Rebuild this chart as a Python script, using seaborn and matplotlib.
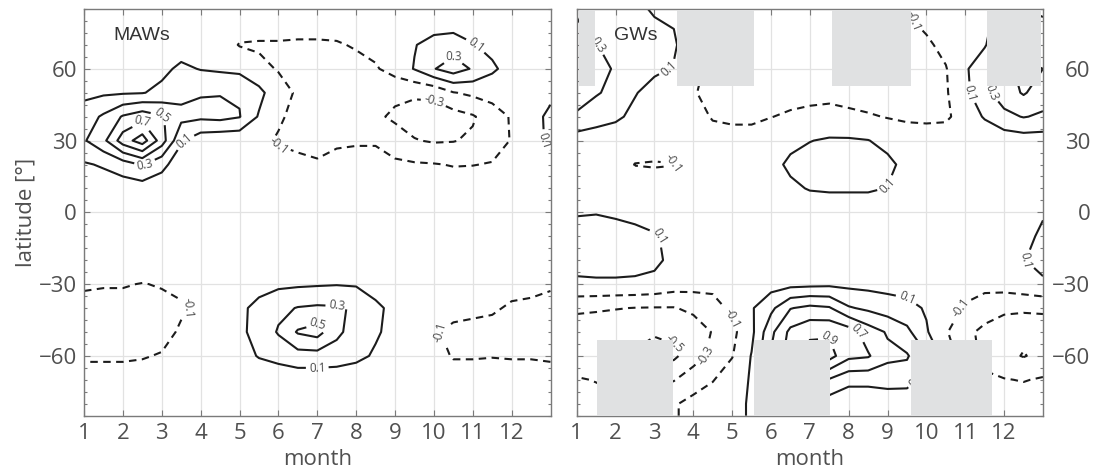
import numpy as np
import matplotlib
matplotlib.use("Agg")
import matplotlib.pyplot as plt
from matplotlib.ticker import MultipleLocator
import seaborn as sns

# ---------------- data ----------------
months = [1, 1.5, 2, 2.5, 3, 3.5, 4, 4.5, 5, 5.5, 6, 6.5, 7, 7.5, 8, 8.5,
          9, 9.5, 10, 10.5, 11, 11.5, 12, 12.5, 13]
lats = [85, 80, 70, 60, 50, 40, 30, 20, 10, 0, -10, -20, -30, -40, -50, -60,
        -70, -80, -85]

maws = [
    [0, 0, 0, 0, 0, 0, 0, 0, 0, 0, 0, 0, 0, 0, 0, 0, 0, 0, 0, 0, 0, 0, 0, 0, 0],
    [0, 0, 0, 0, 0, 0, 0, 0, 0, 0, 0, 0, 0, 0, 0, 0, 0, 0, 0, 0, 0, 0, 0, 0, 0],
    [0, 0, 0, 0, 0, 0, 0, 0, -0.11, -0.12, -0.12, -0.13, -0.13, -0.12, -0.08, -0.04, 0.03, 0.09, 0.17, 0.2, 0.11, 0.05, 0, 0, 0],
    [0, 0, 0, 0.02, 0.05, 0.14, 0.09, 0.07, 0.05, -0.06, -0.11, -0.17, -0.2, -0.2, -0.17, -0.12, -0.02, 0.11, 0.29, 0.4, 0.28, 0.13, 0.03, 0, 0],
    [0.05, 0.07, 0.08, 0.09, 0.15, 0.24, 0.29, 0.29, 0.28, 0.16, -0.04, -0.12, -0.18, -0.22, -0.24, -0.25, -0.26, -0.27, -0.25, -0.11, -0.06, -0.02, 0, 0.02, 0.05],
    [0.2, 0.33, 0.52, 0.62, 0.52, 0.36, 0.34, 0.36, 0.31, 0.08, -0.07, -0.16, -0.18, -0.2, -0.22, -0.27, -0.33, -0.38, -0.4, -0.38, -0.32, -0.2, -0.08, 0.02, 0.15],
    [0.28, 0.45, 0.8, 1.0, 0.6, 0.12, -0.02, -0.05, -0.05, -0.05, -0.12, -0.13, -0.13, -0.12, -0.12, -0.12, -0.22, -0.29, -0.32, -0.31, -0.27, -0.18, -0.09, 0.02, 0.14],
    [0.08, 0.12, 0.2, 0.32, 0.15, 0, 0, 0, 0, 0, -0.02, -0.07, -0.09, -0.06, -0.03, -0.03, -0.06, -0.08, -0.09, -0.11, -0.105, -0.09, -0.05, 0, 0.04],
    [0, 0, 0, 0, 0, 0, 0, 0, 0, 0, 0, 0, 0, 0, 0, 0, 0, 0, 0, 0, 0, 0, 0, 0, 0],
    [0, 0, 0, 0, 0, 0, 0, 0, 0, 0, 0, 0, 0, 0, 0, 0, 0, 0, 0, 0, 0, 0, 0, 0, 0],
    [0, 0, 0, 0, 0, 0, 0, 0, 0, 0, 0, 0, 0, 0, 0, 0, 0, 0, 0, 0, 0, 0, 0, 0, 0],
    [0, 0, 0, 0, 0, 0, 0, 0, 0, 0, 0, 0, 0, 0, 0, 0, 0, 0, 0, 0, 0, 0, 0, 0, 0],
    [-0.08, -0.09, -0.09, -0.105, -0.09, -0.06, -0.02, 0, 0.02, 0.05, 0.06, 0.07, 0.08, 0.09, 0.08, 0.04, 0.02, 0, -0.01, -0.02, -0.03, -0.04, -0.05, -0.06, -0.08],
    [-0.15, -0.15, -0.15, -0.15, -0.14, -0.12, -0.06, 0, 0.07, 0.14, 0.25, 0.31, 0.33, 0.32, 0.28, 0.13, 0.06, 0, -0.02, -0.04, -0.06, -0.08, -0.12, -0.13, -0.15],
    [-0.15, -0.15, -0.15, -0.15, -0.15, -0.08, -0.02, 0.02, 0.07, 0.15, 0.32, 0.52, 0.58, 0.35, 0.2, 0.12, 0.05, 0, -0.08, -0.14, -0.15, -0.15, -0.15, -0.15, -0.15],
    [-0.12, -0.12, -0.12, -0.11, -0.09, -0.05, -0.02, 0, 0.04, 0.11, 0.16, 0.22, 0.22, 0.2, 0.14, 0.08, 0.03, 0, -0.05, -0.11, -0.11, -0.105, -0.11, -0.11, -0.12],
    [-0.04, -0.04, -0.04, -0.04, -0.03, -0.02, 0, 0, 0, 0, -0.02, -0.02, -0.02, -0.02, 0, 0, 0, 0, -0.02, -0.04, -0.04, -0.04, -0.04, -0.04, -0.04],
    [0, 0, 0, 0, 0, 0, 0, 0, 0, 0, 0, 0, 0, 0, 0, 0, 0, 0, 0, 0, 0, 0, 0, 0, 0],
    [0, 0, 0, 0, 0, 0, 0, 0, 0, 0, 0, 0, 0, 0, 0, 0, 0, 0, 0, 0, 0, 0, 0, 0, 0],
]

gws = [
    [0.28, 0.2, 0.15, 0.12, 0.09, 0.07, -0.02, -0.11, -0.15, -0.15, -0.15, -0.15, -0.15, -0.15, -0.15, -0.15, -0.15, -0.12, -0.06, -0.02, 0, 0.05, 0.2, 0.3, 0.28],
    [0.31, 0.2, 0.15, 0.12, 0.105, 0.09, -0.02, -0.11, -0.15, -0.15, -0.15, -0.15, -0.15, -0.15, -0.15, -0.15, -0.15, -0.12, -0.06, -0.02, 0, 0.05, 0.2, 0.31, 0.31],
    [0.45, 0.31, 0.2, 0.17, 0.14, 0.12, 0, -0.12, -0.18, -0.18, -0.18, -0.18, -0.18, -0.18, -0.18, -0.18, -0.18, -0.18, -0.13, -0.05, 0, 0.08, 0.32, 0.4, 0.45],
    [0.5, 0.4, 0.27, 0.2, 0.13, 0.09, -0.05, -0.15, -0.2, -0.2, -0.2, -0.2, -0.2, -0.2, -0.2, -0.2, -0.2, -0.2, -0.18, -0.11, 0.07, 0.25, 0.45, 0.55, 0.5],
    [0.4, 0.32, 0.24, 0.11, 0.04, 0, -0.08, -0.18, -0.2, -0.2, -0.18, -0.18, -0.16, -0.15, -0.17, -0.2, -0.2, -0.2, -0.18, -0.12, 0.05, 0.25, 0.4, 0.52, 0.4],
    [0.27, 0.18, 0.13, 0.06, 0.03, 0.01, 0, -0.12, -0.15, -0.15, -0.105, -0.07, -0.05, -0.04, -0.06, -0.08, -0.11, -0.13, -0.14, -0.13, -0.02, 0.12, 0.25, 0.31, 0.27],
    [0, 0, 0, 0, 0, 0, 0, 0, 0, 0, 0.03, 0.06, 0.095, 0.12, 0.12, 0.105, 0.05, 0, 0, 0, -0.03, -0.05, -0.02, 0, 0],
    [0, 0, 0, -0.105, -0.115, -0.105, 0, 0, 0, 0, 0.05, 0.13, 0.17, 0.19, 0.19, 0.18, 0.14, 0.05, 0, 0, 0, 0, 0, 0, 0],
    [0, 0, 0, 0, 0, 0, 0, 0, 0, 0, 0.02, 0.07, 0.11, 0.12, 0.12, 0.12, 0.095, 0.03, 0, 0, 0, 0, 0, 0, 0],
    [0.08, 0.09, 0.07, 0.04, 0, 0, 0, 0, 0, 0, 0, 0, 0, 0, 0, 0, 0, 0, 0, 0, 0, 0, 0, 0.02, 0.08],
    [0.2, 0.2, 0.18, 0.16, 0.12, 0.04, 0, 0, 0, 0, 0, 0, 0, 0, 0, 0, 0, 0, 0, 0, 0, 0, 0, 0.04, 0.14],
    [0.18, 0.18, 0.18, 0.16, 0.14, 0.05, 0, 0, 0, 0, 0, 0, 0, 0, 0, 0, 0, 0, 0, 0, 0, 0, 0.02, 0.09, 0.18],
    [0.06, 0.07, 0.07, 0.07, 0.05, 0, -0.02, -0.05, -0.02, 0, 0.02, 0.04, 0.05, 0.06, 0.05, 0.04, 0.03, 0.02, 0, -0.03, -0.03, -0.04, -0.02, 0.02, 0.06],
    [-0.25, -0.27, -0.29, -0.305, -0.31, -0.31, -0.26, -0.17, -0.06, 0.08, 0.25, 0.49, 0.55, 0.52, 0.32, 0.26, 0.2, 0.16, 0.08, -0.02, -0.12, -0.2, -0.25, -0.26, -0.25],
    [-0.45, -0.45, -0.45, -0.45, -0.48, -0.46, -0.4, -0.29, -0.15, 0.05, 0.45, 0.75, 0.85, 0.87, 0.8, 0.6, 0.48, 0.35, 0.12, -0.08, -0.25, -0.35, -0.43, -0.46, -0.45],
    [-0.45, -0.48, -0.49, -0.52, -0.58, -0.54, -0.38, -0.25, -0.11, 0.11, 0.52, 0.8, 1.0, 0.98, 0.75, 0.72, 0.55, 0.52, 0.32, 0, -0.2, -0.35, -0.45, -0.51, -0.45],
    [-0.28, -0.31, -0.35, -0.35, -0.35, -0.31, -0.2, -0.11, 0, 0.12, 0.4, 0.52, 0.55, 0.48, 0.36, 0.36, 0.38, 0.4, 0.2, 0, -0.15, -0.27, -0.29, -0.31, -0.28],
    [-0.2, -0.22, -0.25, -0.25, -0.2, -0.12, -0.04, 0, 0.05, 0.12, 0.2, 0.25, 0.25, 0.2, 0.15, 0.15, 0.17, 0.12, 0.08, 0, -0.08, -0.15, -0.2, -0.2, -0.2],
    [-0.2, -0.22, -0.25, -0.25, -0.2, -0.12, -0.04, 0, 0.05, 0.12, 0.2, 0.25, 0.25, 0.2, 0.15, 0.15, 0.17, 0.12, 0.08, 0, -0.08, -0.15, -0.2, -0.2, -0.2],
]

levels = [-0.5, -0.3, -0.1, 0.1, 0.3, 0.5, 0.7, 0.9]

# data-gap (no coverage) regions of the GW panel: month ranges and latitude band
gap_top_months = [(1.05, 1.48), (3.57, 5.55), (7.58, 9.6), (11.55, 12.95)]
gap_top_lat = (52.7, 84.6)
gap_bottom_months = [(1.53, 3.48), (5.57, 7.51), (9.6, 11.7)]
gap_bottom_lat = (-85, -53.3)

month_ticks = [1, 2, 3, 4, 5, 6, 7, 8, 9, 10, 11, 12]
lat_ticks = [-60, -30, 0, 30, 60]
panel_names = ["MAWs", "GWs"]

# ---------------- style ----------------
sns.set_theme(style="white")
plt.rcParams['font.family'] = ['Open Sans', 'DejaVu Sans']
plt.rcParams['axes.unicode_minus'] = True

TXT = '#505050'
SPINE = '#7a7a7a'

fig = plt.figure(figsize=(10.93, 4.75), dpi=100)
ax1 = fig.add_axes([84 / 1093, 59.3 / 475, 466.5 / 1093, 406.7 / 475])
ax2 = fig.add_axes([576.7 / 1093, 59.3 / 475, 466.3 / 1093, 406.7 / 475])

X, Y = np.meshgrid(np.array(months), np.array(lats[::-1]))
fields = [np.array(maws)[::-1], np.array(gws)[::-1]]

neg_dash = (0, (3.6, 2.6))
styles = [neg_dash if lv < 0 else 'solid' for lv in levels]


def fmt(v):
    return f"{v:.1f}"


for i, (ax, Z) in enumerate(zip([ax1, ax2], fields)):
    ax.set_xlim(1, 13)
    ax.set_ylim(-85, 85)
    ax.set_xticks(month_ticks)
    ax.set_yticks(lat_ticks)
    ax.yaxis.set_minor_locator(MultipleLocator(5))
    ax.grid(True, which='major', color='#e2e2e2', lw=0.9)
    ax.set_axisbelow(True)
    for sp in ax.spines.values():
        sp.set_color(SPINE)
        sp.set_linewidth(1.0)
        sp.set_visible(True)
    ax.tick_params(which='both', direction='in', top=True, right=True,
                   bottom=True, left=True, color=SPINE, width=0.8)
    ax.tick_params(which='major', length=4, labelsize=16, labelcolor=TXT)
    ax.tick_params(which='minor', length=2.5)
    ax.tick_params(axis='x', pad=5)

    cs = ax.contour(X, Y, Z, levels=levels, colors='#1c1c1c',
                    linewidths=1.5, linestyles=styles, zorder=2)
    labels = ax.clabel(cs, inline=True, fontsize=8.5, fmt=fmt,
                       inline_spacing=3, colors='#4a4a4a')
    for t in labels:
        t.set_zorder(2.5)

    ax.set_xlabel('month', fontsize=16, color=TXT, labelpad=4)
    ax.text(0.062 if i == 0 else 0.08, 0.935, panel_names[i],
            transform=ax.transAxes, fontsize=14, color='#333333',
            family=['Liberation Sans', 'DejaVu Sans'], va='center', ha='left')

# gap boxes on GW panel
for m0, m1 in gap_top_months:
    ax2.fill_between([m0, m1], gap_top_lat[0], gap_top_lat[1],
                     color='#e0e1e2', lw=0, zorder=3)
for m0, m1 in gap_bottom_months:
    ax2.fill_between([m0, m1], gap_bottom_lat[0], gap_bottom_lat[1],
                     color='#e0e1e2', lw=0, zorder=3)

ax1.set_ylabel('latitude [°]', fontsize=16, color=TXT, labelpad=2)
ax1.tick_params(axis='y', which='both', labelleft=True, labelright=False, pad=5)
ax2.tick_params(axis='y', which='both', labelleft=False, labelright=True, pad=34)
for lab in ax2.get_yticklabels():
    lab.set_horizontalalignment('right')

fig.savefig('out.png', dpi=100)
